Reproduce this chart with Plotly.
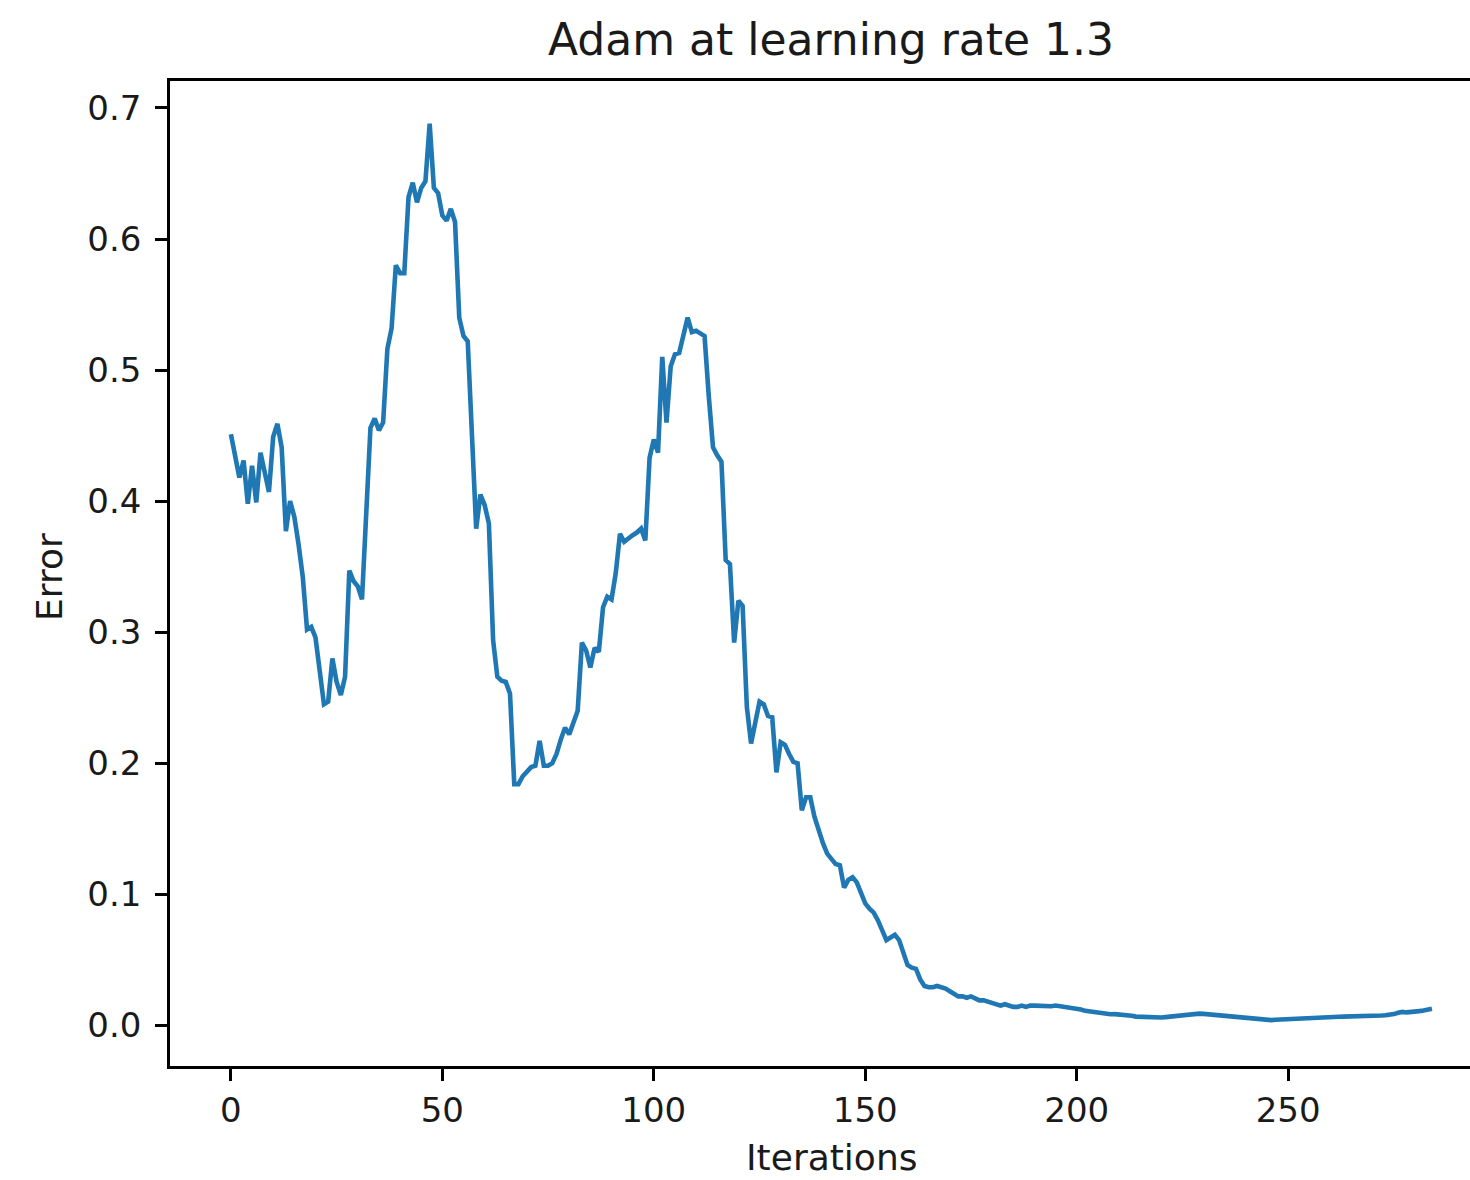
import plotly.graph_objects as go

title_text = "Adam at learning rate 1.3"
x_label = "Iterations"
y_label = "Error"

x_ticks = [0, 50, 100, 150, 200, 250]
y_ticks = [0.0, 0.1, 0.2, 0.3, 0.4, 0.5, 0.6, 0.7]
y_tick_labels = ["0.0", "0.1", "0.2", "0.3", "0.4", "0.5", "0.6", "0.7"]

error = [
    0.451, 0.435, 0.418, 0.431, 0.398, 0.427, 0.399, 0.437, 0.422, 0.407,
    0.449, 0.459, 0.441, 0.377, 0.400, 0.388, 0.367, 0.342, 0.302, 0.304,
    0.296, 0.270, 0.245, 0.247, 0.280, 0.262, 0.252, 0.266, 0.347, 0.339,
    0.335, 0.325, 0.390, 0.456, 0.463, 0.454, 0.460, 0.516, 0.532, 0.580,
    0.574, 0.574, 0.632, 0.643, 0.628, 0.639, 0.644, 0.688, 0.639, 0.635,
    0.618, 0.614, 0.623, 0.613, 0.540, 0.526, 0.522, 0.450, 0.379, 0.405,
    0.397, 0.383, 0.294, 0.266, 0.263, 0.262, 0.253, 0.184, 0.184, 0.190,
    0.194, 0.197, 0.198, 0.217, 0.198, 0.198, 0.200, 0.207, 0.218, 0.227,
    0.222, 0.232, 0.240, 0.292, 0.286, 0.273, 0.288, 0.285, 0.319, 0.327,
    0.325, 0.345, 0.375, 0.369, 0.372, 0.374, 0.376, 0.379, 0.370, 0.433,
    0.447, 0.437, 0.510, 0.460, 0.503, 0.512, 0.513, 0.525, 0.540, 0.529,
    0.530, 0.528, 0.526, 0.480, 0.441, 0.435, 0.430, 0.355, 0.352, 0.292,
    0.324, 0.320, 0.243, 0.215, 0.230, 0.247, 0.245, 0.236, 0.235, 0.193,
    0.216, 0.214, 0.207, 0.201, 0.200, 0.164, 0.174, 0.174, 0.159, 0.148,
    0.139, 0.131, 0.127, 0.123, 0.122, 0.105, 0.111, 0.113, 0.109, 0.102,
    0.093, 0.089, 0.086, 0.080, 0.072, 0.065, 0.067, 0.069, 0.065, 0.055,
    0.046, 0.044, 0.043, 0.035, 0.030, 0.029, 0.029, 0.030, 0.029, 0.028,
    0.026, 0.024, 0.022, 0.022, 0.021, 0.022, 0.020, 0.019, 0.019, 0.018,
    0.017, 0.016, 0.015, 0.016, 0.015, 0.014, 0.014, 0.015, 0.014, 0.015,
    0.015, 0.0147, 0.015, 0.014, 0.0145, 0.015, 0.0145, 0.014, 0.0135, 0.0135,
    0.013, 0.012, 0.011, 0.0105, 0.010, 0.0095, 0.009, 0.0088, 0.0084, 0.0085,
    0.0082, 0.0084, 0.0080, 0.0072, 0.0066, 0.0064, 0.0063, 0.0062, 0.0060, 0.0059,
    0.0059, 0.0062, 0.0066, 0.0070, 0.0074, 0.0078, 0.0082, 0.0085, 0.0088, 0.0089,
    0.0087, 0.0084, 0.0081, 0.0078, 0.0074, 0.0071, 0.0069, 0.0066, 0.0062, 0.0058,
    0.0054, 0.0050, 0.0046, 0.0043, 0.0040, 0.0038, 0.0039, 0.0042, 0.0044, 0.0046,
    0.0048, 0.0050, 0.0053, 0.0055, 0.0057, 0.0059, 0.0060, 0.0061, 0.0062, 0.0063,
    0.0063, 0.0064, 0.0065, 0.0066, 0.0066, 0.0067, 0.0068, 0.0069, 0.0070, 0.0071,
    0.0072, 0.0073, 0.0074, 0.0076, 0.0078, 0.0085, 0.0095, 0.0102, 0.0098, 0.0104,
    0.0110, 0.0108, 0.0112, 0.0115, 0.0125,
]
iterations = list(range(len(error)))

FONT = "DejaVu Sans"
TEXT_COLOR = "#1a1a1a"

fig = go.Figure()
fig.add_trace(go.Scatter(
    x=iterations, y=error, mode="lines",
    line=dict(color="#1f77b4", width=4.6),
    showlegend=False,
))

axis_common = dict(
    showline=True, linecolor="black", linewidth=2.5,
    ticks="outside", ticklen=12, tickwidth=2.5, tickcolor="black",
    showgrid=False, zeroline=False,
    tickfont=dict(family=FONT, size=34, color=TEXT_COLOR),
)

fig.update_xaxes(
    range=[-14.4, 293.0], tickvals=x_ticks, mirror=True,
    ticklabelstandoff=0, **axis_common,
)
fig.update_yaxes(
    range=[-0.0311, 0.7206], tickvals=y_ticks, ticktext=y_tick_labels,
    ticklabelstandoff=7, **axis_common,
)

fig.update_layout(
    width=1470, height=1180,
    margin=dict(l=170, r=0, t=81, b=114),
    paper_bgcolor="white", plot_bgcolor="white",
    title=dict(
        text=title_text, x=0.5085, xref="paper", xanchor="center",
        y=1 - 40 / 1180, yref="container", yanchor="middle",
        font=dict(family=FONT, size=44, color=TEXT_COLOR),
    ),
    annotations=[
        dict(text=x_label, xref="paper", yref="paper", x=0.5085, y=-0.0934,
             xanchor="center", yanchor="middle", showarrow=False,
             font=dict(family=FONT, size=36, color=TEXT_COLOR)),
        dict(text=y_label, xref="paper", yref="paper", x=-0.0923, y=0.4965,
             xanchor="center", yanchor="middle", showarrow=False, textangle=-90,
             font=dict(family=FONT, size=36, color=TEXT_COLOR)),
    ],
)

fig.write_html(
    "out.html",
    config={"displayModeBar": False},
    post_script="document.body.style.margin='0';document.body.style.overflow='hidden';",
)
